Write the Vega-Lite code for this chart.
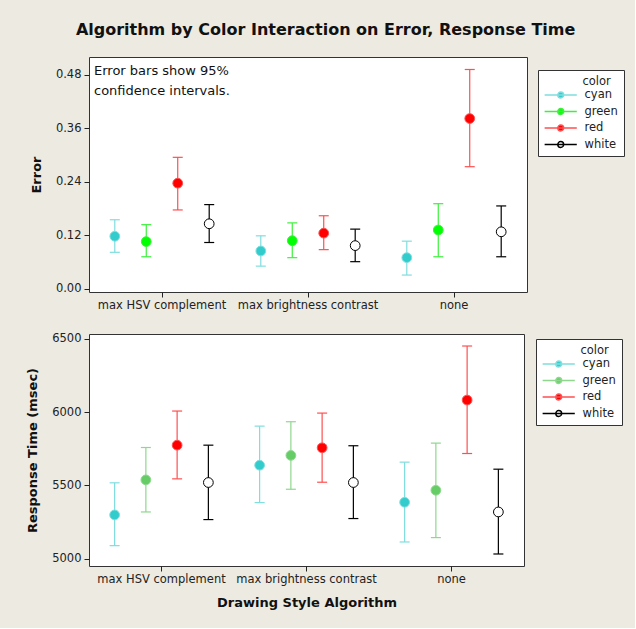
{
  "$schema": "https://vega.github.io/schema/vega-lite/v6.json",
  "background": "#EDEAE1",
  "padding": {"left": 26, "top": 21, "right": 10, "bottom": 18},
  "title": {"text": "Algorithm by Color Interaction on Error, Response Time", "fontSize": 16, "font": "DejaVu Sans", "fontWeight": "bold", "color": "#111", "offset": 19, "anchor": "middle"},
  "datasets": {
    "err": [
      {"algorithm": "max HSV complement", "color": "cyan", "mean": 0.118, "lo": 0.082, "hi": 0.155},
      {"algorithm": "max HSV complement", "color": "green", "mean": 0.106, "lo": 0.072, "hi": 0.144},
      {"algorithm": "max HSV complement", "color": "red", "mean": 0.237, "lo": 0.177, "hi": 0.295},
      {"algorithm": "max HSV complement", "color": "white", "mean": 0.146, "lo": 0.104, "hi": 0.189},
      {"algorithm": "max brightness contrast", "color": "cyan", "mean": 0.085, "lo": 0.051, "hi": 0.119},
      {"algorithm": "max brightness contrast", "color": "green", "mean": 0.108, "lo": 0.070, "hi": 0.148},
      {"algorithm": "max brightness contrast", "color": "red", "mean": 0.125, "lo": 0.088, "hi": 0.164},
      {"algorithm": "max brightness contrast", "color": "white", "mean": 0.097, "lo": 0.061, "hi": 0.134},
      {"algorithm": "none", "color": "cyan", "mean": 0.070, "lo": 0.031, "hi": 0.107},
      {"algorithm": "none", "color": "green", "mean": 0.132, "lo": 0.072, "hi": 0.191},
      {"algorithm": "none", "color": "red", "mean": 0.382, "lo": 0.274, "hi": 0.492},
      {"algorithm": "none", "color": "white", "mean": 0.128, "lo": 0.072, "hi": 0.186}
    ],
    "rt": [
      {"algorithm": "max HSV complement", "color": "cyan", "mean": 5299, "lo": 5089, "hi": 5518},
      {"algorithm": "max HSV complement", "color": "green", "mean": 5538, "lo": 5319, "hi": 5759},
      {"algorithm": "max HSV complement", "color": "red", "mean": 5775, "lo": 5545, "hi": 6008},
      {"algorithm": "max HSV complement", "color": "white", "mean": 5520, "lo": 5267, "hi": 5775},
      {"algorithm": "max brightness contrast", "color": "cyan", "mean": 5638, "lo": 5383, "hi": 5905},
      {"algorithm": "max brightness contrast", "color": "green", "mean": 5705, "lo": 5474, "hi": 5935},
      {"algorithm": "max brightness contrast", "color": "red", "mean": 5757, "lo": 5522, "hi": 5994},
      {"algorithm": "max brightness contrast", "color": "white", "mean": 5520, "lo": 5274, "hi": 5771},
      {"algorithm": "none", "color": "cyan", "mean": 5385, "lo": 5114, "hi": 5659},
      {"algorithm": "none", "color": "green", "mean": 5467, "lo": 5144, "hi": 5789},
      {"algorithm": "none", "color": "red", "mean": 6083, "lo": 5718, "hi": 6452},
      {"algorithm": "none", "color": "white", "mean": 5319, "lo": 5032, "hi": 5611}
    ]
  },
  "spacing": 21,
  "resolve": {
    "scale": {"x": "independent", "y": "independent", "xOffset": "independent", "fill": "independent", "stroke": "independent", "size": "independent"},
    "legend": {"fill": "independent", "stroke": "independent"},
    "axis": {"x": "independent", "y": "independent"}
  },
  "vconcat": [
    {
      "name": "top",
      "width": 438,
      "height": 235,
      "data": {"name": "err"},
      "layer": [
        {
          "mark": {"type": "rule", "strokeWidth": 1.2},
          "encoding": {
            "x": {"field": "algorithm", "type": "nominal", "sort": ["max HSV complement", "max brightness contrast", "none"], "scale": {"paddingInner": 0, "paddingOuter": 0}, "axis": {"title": null}},
            "xOffset": {"field": "color", "type": "nominal", "scale": {"domain": ["cyan", "green", "red", "white"], "paddingInner": 0, "paddingOuter": 0.32}},
            "y": {"field": "lo", "type": "quantitative", "title": "Error", "scale": {"domain": [-0.007, 0.52], "nice": false, "zero": false}, "axis": {"values": [0, 0.12, 0.24, 0.36, 0.48], "format": ".2f"}},
            "y2": {"field": "hi"},
            "stroke": {"field": "color", "type": "nominal", "scale": {"domain": ["cyan", "green", "red", "white"], "range": ["#7FDEDE", "#3CF03C", "#FF5050", "#000000"]}, "legend": {"title": "color", "orient": "none", "legendX": 449, "legendY": 13, "symbolType": "M-1,0H5.6M2.9,0A0.6,0.6,0,1,1,1.7,0A0.6,0.6,0,1,1,2.9,0Z", "symbolSize": 100, "labelOffset": 29, "encode": {"title": {"update": {"dx": {"value": 39}}}}}}
          }
        },
        {
          "mark": {"type": "point", "shape": "stroke", "size": 100, "strokeWidth": 1.2, "opacity": 1},
          "encoding": {
            "x": {"field": "algorithm", "type": "nominal", "sort": ["max HSV complement", "max brightness contrast", "none"]},
            "xOffset": {"field": "color", "type": "nominal"},
            "y": {"field": "lo", "type": "quantitative", "title": "Error"},
            "stroke": {"field": "color", "type": "nominal", "legend": {"title": "color", "orient": "none", "legendX": 449, "legendY": 13, "symbolType": "M-1,0H5.6M2.9,0A0.6,0.6,0,1,1,1.7,0A0.6,0.6,0,1,1,2.9,0Z", "symbolSize": 100, "labelOffset": 29, "encode": {"title": {"update": {"dx": {"value": 39}}}}}}
          }
        },
        {
          "mark": {"type": "point", "shape": "stroke", "size": 100, "strokeWidth": 1.2, "opacity": 1},
          "encoding": {
            "x": {"field": "algorithm", "type": "nominal", "sort": ["max HSV complement", "max brightness contrast", "none"]},
            "xOffset": {"field": "color", "type": "nominal"},
            "y": {"field": "hi", "type": "quantitative", "title": "Error"},
            "stroke": {"field": "color", "type": "nominal", "legend": {"title": "color", "orient": "none", "legendX": 449, "legendY": 13, "symbolType": "M-1,0H5.6M2.9,0A0.6,0.6,0,1,1,1.7,0A0.6,0.6,0,1,1,2.9,0Z", "symbolSize": 100, "labelOffset": 29, "encode": {"title": {"update": {"dx": {"value": 39}}}}}}
          }
        },
        {
          "mark": {"type": "point", "filled": true, "opacity": 1, "strokeWidth": 1},
          "encoding": {
            "x": {"field": "algorithm", "type": "nominal", "sort": ["max HSV complement", "max brightness contrast", "none"]},
            "xOffset": {"field": "color", "type": "nominal"},
            "y": {"field": "mean", "type": "quantitative", "title": "Error"},
            "fill": {"field": "color", "type": "nominal", "scale": {"domain": ["cyan", "green", "red", "white"], "range": ["#33CCCC", "#00FF00", "#FF0000", "#FFFFFF"]}, "legend": {"title": "color", "orient": "none", "legendX": 449, "legendY": 13, "symbolType": "M-1,0H5.6M2.9,0A0.6,0.6,0,1,1,1.7,0A0.6,0.6,0,1,1,2.9,0Z", "symbolSize": 100, "labelOffset": 29, "encode": {"title": {"update": {"dx": {"value": 39}}}}}},
            "stroke": {"field": "color", "type": "nominal", "legend": {"title": "color", "orient": "none", "legendX": 449, "legendY": 13, "symbolType": "M-1,0H5.6M2.9,0A0.6,0.6,0,1,1,1.7,0A0.6,0.6,0,1,1,2.9,0Z", "symbolSize": 100, "labelOffset": 29, "encode": {"title": {"update": {"dx": {"value": 39}}}}}},
            "size": {"field": "color", "type": "nominal", "scale": {"domain": ["cyan", "green", "red", "white"], "range": [95, 95, 95, 60]}, "legend": null}
          }
        },
        {
          "data": {"values": [{"note": 1}]},
          "mark": {"type": "text", "align": "left", "baseline": "top", "dx": 5, "fontSize": 13, "lineHeight": 19.5, "color": "#111", "font": "DejaVu Sans", "text": ["Error bars show 95%", "confidence intervals."]},
          "encoding": {
            "x": {"datum": "max HSV complement", "type": "nominal", "bandPosition": 0},
            "y": {"datum": 0.501, "type": "quantitative"}
          }
        }
      ]
    },
    {
      "name": "bottom",
      "width": 435,
      "height": 232,
      "data": {"name": "rt"},
      "layer": [
        {
          "mark": {"type": "rule", "strokeWidth": 1.2},
          "encoding": {
            "x": {"field": "algorithm", "type": "nominal", "sort": ["max HSV complement", "max brightness contrast", "none"], "scale": {"paddingInner": 0, "paddingOuter": 0}, "axis": {"title": "Drawing Style Algorithm", "titlePadding": 12}},
            "xOffset": {"field": "color", "type": "nominal", "scale": {"domain": ["cyan", "green", "red", "white"], "paddingInner": 0, "paddingOuter": 0.32}},
            "y": {"field": "lo", "type": "quantitative", "title": "Response Time (msec)", "scale": {"domain": [4950, 6534], "nice": false, "zero": false}, "axis": {"values": [5000, 5500, 6000, 6500], "format": "d"}},
            "y2": {"field": "hi"},
            "stroke": {"field": "color", "type": "nominal", "scale": {"domain": ["cyan", "green", "red", "white"], "range": ["#7FDEDE", "#8ED88E", "#FF5050", "#000000"]}, "legend": {"title": "color", "orient": "none", "legendX": 447, "legendY": 5, "symbolType": "M-1,0H5.6M2.9,0A0.6,0.6,0,1,1,1.7,0A0.6,0.6,0,1,1,2.9,0Z", "symbolSize": 100, "labelOffset": 29, "encode": {"title": {"update": {"dx": {"value": 39}}}}}}
          }
        },
        {
          "mark": {"type": "point", "shape": "stroke", "size": 100, "strokeWidth": 1.2, "opacity": 1},
          "encoding": {
            "x": {"field": "algorithm", "type": "nominal", "sort": ["max HSV complement", "max brightness contrast", "none"]},
            "xOffset": {"field": "color", "type": "nominal"},
            "y": {"field": "lo", "type": "quantitative", "title": "Response Time (msec)"},
            "stroke": {"field": "color", "type": "nominal", "legend": {"title": "color", "orient": "none", "legendX": 447, "legendY": 5, "symbolType": "M-1,0H5.6M2.9,0A0.6,0.6,0,1,1,1.7,0A0.6,0.6,0,1,1,2.9,0Z", "symbolSize": 100, "labelOffset": 29, "encode": {"title": {"update": {"dx": {"value": 39}}}}}}
          }
        },
        {
          "mark": {"type": "point", "shape": "stroke", "size": 100, "strokeWidth": 1.2, "opacity": 1},
          "encoding": {
            "x": {"field": "algorithm", "type": "nominal", "sort": ["max HSV complement", "max brightness contrast", "none"]},
            "xOffset": {"field": "color", "type": "nominal"},
            "y": {"field": "hi", "type": "quantitative", "title": "Response Time (msec)"},
            "stroke": {"field": "color", "type": "nominal", "legend": {"title": "color", "orient": "none", "legendX": 447, "legendY": 5, "symbolType": "M-1,0H5.6M2.9,0A0.6,0.6,0,1,1,1.7,0A0.6,0.6,0,1,1,2.9,0Z", "symbolSize": 100, "labelOffset": 29, "encode": {"title": {"update": {"dx": {"value": 39}}}}}}
          }
        },
        {
          "mark": {"type": "point", "filled": true, "opacity": 1, "strokeWidth": 1},
          "encoding": {
            "x": {"field": "algorithm", "type": "nominal", "sort": ["max HSV complement", "max brightness contrast", "none"]},
            "xOffset": {"field": "color", "type": "nominal"},
            "y": {"field": "mean", "type": "quantitative", "title": "Response Time (msec)"},
            "fill": {"field": "color", "type": "nominal", "scale": {"domain": ["cyan", "green", "red", "white"], "range": ["#33CCCC", "#66CC66", "#FF0000", "#FFFFFF"]}, "legend": {"title": "color", "orient": "none", "legendX": 447, "legendY": 5, "symbolType": "M-1,0H5.6M2.9,0A0.6,0.6,0,1,1,1.7,0A0.6,0.6,0,1,1,2.9,0Z", "symbolSize": 100, "labelOffset": 29, "encode": {"title": {"update": {"dx": {"value": 39}}}}}},
            "stroke": {"field": "color", "type": "nominal", "legend": {"title": "color", "orient": "none", "legendX": 447, "legendY": 5, "symbolType": "M-1,0H5.6M2.9,0A0.6,0.6,0,1,1,1.7,0A0.6,0.6,0,1,1,2.9,0Z", "symbolSize": 100, "labelOffset": 29, "encode": {"title": {"update": {"dx": {"value": 39}}}}}},
            "size": {"field": "color", "type": "nominal", "scale": {"domain": ["cyan", "green", "red", "white"], "range": [95, 95, 95, 60]}, "legend": null}
          }
        }
      ]
    }
  ],
  "config": {
    "font": "DejaVu Sans",
    "view": {"fill": "white", "stroke": "#333", "strokeWidth": 1},
    "axis": {"domain": false, "grid": false, "tickColor": "#222", "tickSize": 5, "labelFont": "DejaVu Sans", "labelFontSize": 11.5, "labelColor": "#222", "titleFont": "DejaVu Sans", "titleFontSize": 13, "titleFontWeight": "bold", "titleColor": "#111", "labelPadding": 3},
    "axisX": {"labelPadding": 2, "titlePadding": 5, "labelAngle": 0},
    "axisY": {"titlePadding": 12},
    "legend": {"fillColor": "white", "strokeColor": "#333", "padding": 5.5, "titleFontWeight": "normal", "titleFontSize": 11.5, "titleColor": "#222", "labelFontSize": 11.5, "labelColor": "#222", "symbolStrokeWidth": 1.5, "rowPadding": 4.5, "titlePadding": 2, "titleAnchor": "start"}
  }
}
